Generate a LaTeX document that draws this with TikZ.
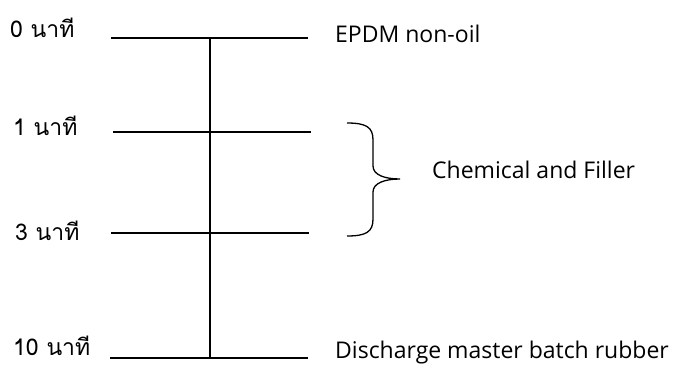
\documentclass[tikz,border=0pt]{standalone}
\usepackage{fontspec}
\setmainfont{Open Sans}
\newfontfamily\thaifont[Script=Thai]{Loma}

\begin{document}
\begin{tikzpicture}[x=1pt,y=1pt,
  tick/.style={line width=1.5pt},
  minlbl/.style={font=\thaifont\fontsize{23}{26}\selectfont, inner sep=0pt, text depth=0pt, anchor=base west},
  steptxt/.style={font=\fontsize{23}{27}\selectfont, anchor=base west, inner sep=0pt}]
\useasboundingbox (0,0) rectangle (674,-364);

\coordinate (t0a) at (111,-38);  \coordinate (t0b) at (308,-38);
\coordinate (t1a) at (113,-132); \coordinate (t1b) at (311,-132);
\coordinate (t3a) at (111,-233); \coordinate (t3b) at (309,-233);
\coordinate (t10a) at (110,-358); \coordinate (t10b) at (308,-358);
\coordinate (axtop) at (210,-38); \coordinate (axbot) at (210,-358);

\draw[tick] (t0a) -- (t0b);
\draw[tick] (t1a) -- (t1b);
\draw[tick] (t3a) -- (t3b);
\draw[tick] (t10a) -- (t10b);
\draw[tick] (axtop) -- (axbot);

\node[minlbl] (m0) at (10,-37) {0 นาที};
\node[minlbl] (m1) at (13,-135) {1 นาที};
\node[minlbl] (m3) at (15,-240) {3 นาที};
\node[minlbl] (m10) at (13,-355) {10 นาที};

\node[steptxt] (epdm) at (335,-42) {EPDM non-oil};
\coordinate (bra) at (347,-123); \coordinate (brtip) at (400,-179); \coordinate (brb) at (347,-236);
\draw[line width=1.3pt] (bra) .. controls (366,-123) and (373,-127) .. (373,-140)
  -- (373,-166) .. controls (373,-175) and (385,-179) .. (brtip)
  .. controls (385,-179) and (373,-183) .. (373,-192)
  -- (373,-219) .. controls (373,-232) and (366,-236) .. (brb);
\node[steptxt] (chem) at (432,-178) {Chemical and Filler};
\node[steptxt] (dis) at (335,-358) {Discharge master batch rubber};
\end{tikzpicture}
\end{document}
